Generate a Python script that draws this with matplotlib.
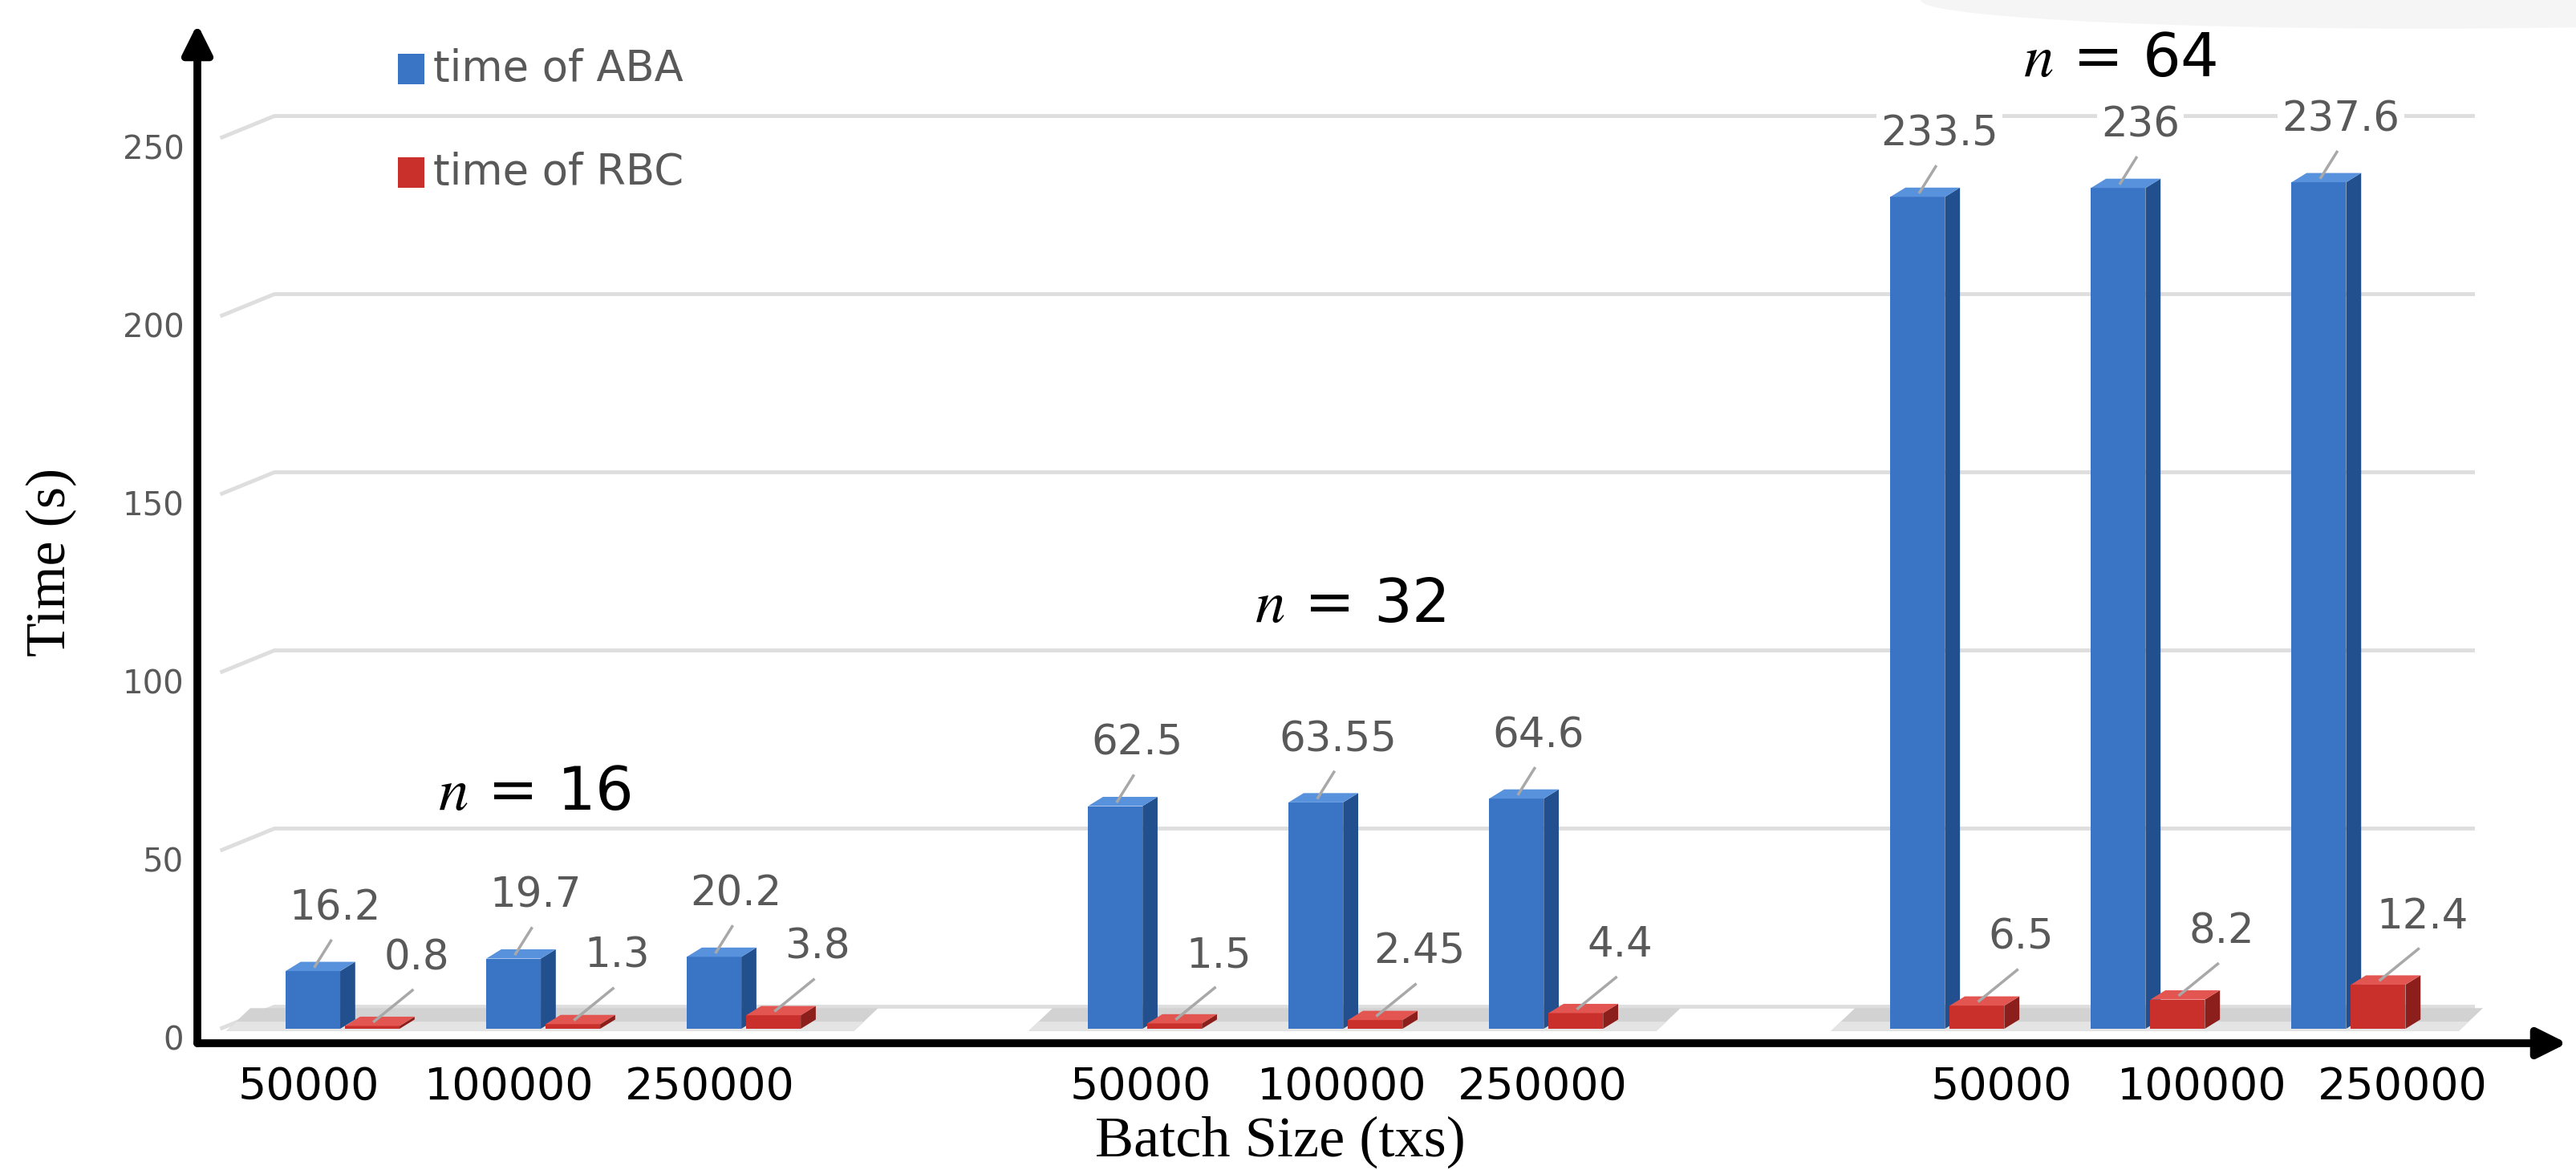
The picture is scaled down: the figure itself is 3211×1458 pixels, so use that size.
import matplotlib
matplotlib.use("Agg")
import matplotlib.pyplot as plt
import matplotlib.transforms as mtransforms
from matplotlib.patches import Polygon, Rectangle, Ellipse
import numpy as np

plt.rcParams["font.family"] = ["DejaVu Sans"]
plt.rcParams["mathtext.fontset"] = "stix"

# data
groups = ["n = 16", "n = 32", "n = 64"]
batch_sizes = ["50000", "100000", "250000"]
aba_time = [16.2, 19.7, 20.2, 62.5, 63.55, 64.6, 233.5, 236, 237.6]
rbc_time = [0.8, 1.3, 3.8, 1.5, 2.45, 4.4, 6.5, 8.2, 12.4]
aba_labels = ["16.2", "19.7", "20.2", "62.5", "63.55", "64.6", "233.5", "236", "237.6"]
rbc_labels = ["0.8", "1.3", "3.8", "1.5", "2.45", "4.4", "6.5", "8.2", "12.4"]

# bar layout: 3 batch sizes per group, groups spaced 4 units apart
pos = np.array([g * 4 + i for g in range(3) for i in range(3)], dtype=float)
w = 0.272
ddx, ddy = 0.075, 2.6          # fake depth of the 3d boxes

blue_front, blue_side, blue_top = "#3a74c4", "#22508f", "#5892dc"
red_front, red_side, red_top = "#c9302b", "#8c1f1b", "#e25550"
grid_c = "#dedede"
lab_c = "#595959"

fig = plt.figure(figsize=(32.11, 14.58), dpi=100)
ax = fig.add_axes([246 / 3211, 158 / 1458, 2954 / 3211, 1270 / 1458])
ax.set_xlim(-0.724, 11.09)
ax.set_ylim(-4.05, 282)

# faint shadow at the top edge
fig.patches.append(Ellipse((3020 / 3211, 1.0), 1250 / 3211, 70 / 1458,
                           transform=fig.transFigure, color="#f5f5f5", zorder=0))

# back wall grid lines with the little diagonal to the front
for v in range(0, 251, 50):
    ax.plot([-0.61, -0.34, 10.63], [v, v + 6.2, v + 6.2], color=grid_c, lw=3.5,
            zorder=1, solid_capstyle="butt")

# floor under each group
for g in range(3):
    x0, x1 = g * 4 - 0.58, g * 4 + 2.55
    ax.add_patch(Polygon([(x0, -0.6), (x1, -0.6), (x1 + 0.12, 5.8), (x0 + 0.12, 5.8)],
                         closed=True, facecolor="#d2d2d2", edgecolor="none", zorder=1.5))
    ax.add_patch(Polygon([(x0, -0.6), (x1, -0.6), (x1 + 0.05, 2.0), (x0 + 0.05, 2.0)],
                         closed=True, facecolor="#e4e4e4", edgecolor="none", zorder=1.6))


def box3d(xc, h, front, side, top, z):
    xl, xr = xc - w / 2, xc + w / 2
    ax.bar(xc, h, width=w, color=front, edgecolor="none", zorder=z)
    ax.add_patch(Polygon([(xr, 0), (xr + ddx, ddy), (xr + ddx, h + ddy), (xr, h)],
                         closed=True, facecolor=side, edgecolor="none", zorder=z))
    ax.add_patch(Polygon([(xl, h), (xr, h), (xr + ddx, h + ddy), (xl + ddx, h + ddy)],
                         closed=True, facecolor=top, edgecolor="none", zorder=z))


for i in range(len(pos)):
    box3d(pos[i] - 0.148, aba_time[i], blue_front, blue_side, blue_top, 3)
    box3d(pos[i] + 0.148, rbc_time[i], red_front, red_side, red_top, 4)

# value labels with leader lines
def value_label(xc, h, text, dx, dy):
    lx, ly = xc + dx, h + dy
    ax.plot([xc + 0.01, lx - 0.02], [h + ddy * 0.5, ly - 9], color="#a8a8a8",
            lw=2.5, zorder=6)
    ax.text(lx, ly, text, ha="center", va="center", fontsize=37, color=lab_c, zorder=7,
            bbox=dict(boxstyle="square,pad=0.1", facecolor="white", edgecolor="none"))


for i in range(len(pos)):
    value_label(pos[i] - 0.148, aba_time[i], aba_labels[i], 0.11, 17.5)
    value_label(pos[i] + 0.148, rbc_time[i], rbc_labels[i], 0.22, 19.0)

# group captions
group_xy = [(0.956, 66.0), (5.024, 118.9), (8.86, 272.0)]
for (gx, gy), name in zip(group_xy, groups):
    ax.text(gx, gy, "$n$" + name[1:], ha="center", va="center", fontsize=54,
            color="black", zorder=7)

# axes: arrows instead of spines
for s in ax.spines.values():
    s.set_visible(False)
ax.annotate("", xy=(1.0, 0.0), xytext=(0.0, 0.0), xycoords="axes fraction",
            arrowprops=dict(arrowstyle="-|>", lw=7, color="black", mutation_scale=55,
                            shrinkA=0, shrinkB=0), zorder=8)
ax.annotate("", xy=(0.0, 1.0), xytext=(0.0, 0.0), xycoords="axes fraction",
            arrowprops=dict(arrowstyle="-|>", lw=7, color="black", mutation_scale=55,
                            shrinkA=0, shrinkB=0), zorder=8)

ax.set_yticks(range(0, 251, 50))
ax.tick_params(axis="y", length=0, pad=12, labelsize=29, labelcolor=lab_c)
shift = mtransforms.ScaledTranslation(0, -8 / 72, fig.dpi_scale_trans)
for t in ax.get_yticklabels():
    t.set_transform(t.get_transform() + shift)

group_shift = [-0.17, -0.02, 0.27]
ax.set_xticks([pos[i] + group_shift[i // 3] for i in range(len(pos))])
ax.set_xticklabels(batch_sizes * 3)
ax.tick_params(axis="x", length=0, pad=20, labelsize=40, labelcolor="black")

ax.set_xlabel("Batch Size (txs)", fontfamily="Liberation Serif", fontsize=52, va="center")
ax.xaxis.set_label_coords(0.457, -0.097)
ax.set_ylabel("Time (s)", fontfamily="Liberation Serif", fontsize=50, va="center")
ax.yaxis.set_label_coords(-0.0616, 0.472)

# legend drawn by hand: coloured squares and grey text
legend_items = [("time of ABA", blue_front, 86), ("time of RBC", red_front, 215)]
for name, col, ypx in legend_items:
    fig.patches.append(Rectangle((496 / 3211, 1 - (ypx + 19) / 1458), 33 / 3211, 38 / 1458,
                                 transform=fig.transFigure, facecolor=col,
                                 edgecolor="none", zorder=5))
    fig.text(540 / 3211, 1 - ypx / 1458, name, ha="left", va="center", fontsize=38,
             color=lab_c)

fig.savefig("out.png", dpi=100)
